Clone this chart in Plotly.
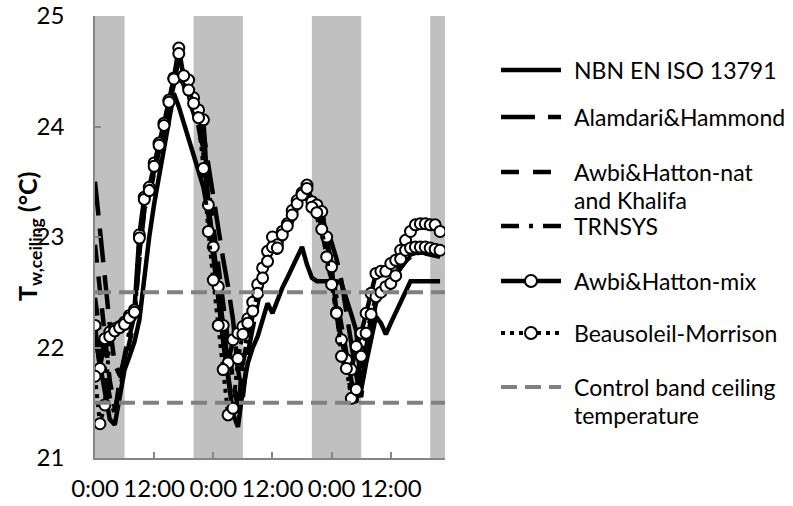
import plotly.graph_objects as go

# Hourly ceiling surface temperature (°C) over three days
hours = list(range(71))

nbn_en_iso_13791 = [
    22.10, 21.85, 21.60, 21.35, 21.30, 21.55, 21.80, 21.92, 22.05, 22.25,
    22.65, 23.00, 23.30, 23.55, 23.80, 24.05, 24.30, 24.18, 24.04, 23.90,
    23.76, 23.62, 23.45, 23.20, 22.85, 22.45, 22.05, 21.70, 21.40, 21.28,
    21.62, 21.86, 22.00, 22.10, 22.25, 22.40, 22.31, 22.44, 22.54, 22.63,
    22.72, 22.82, 22.91, 22.75, 22.63, 22.60, 22.60, 22.60, 22.60, 22.60,
    22.58, 22.45, 22.30, 22.15, 21.62, 21.86, 22.08, 22.28, 22.22, 22.12,
    22.22, 22.32, 22.42, 22.52, 22.60, 22.60, 22.60, 22.60, 22.60, 22.60,
    22.60,
]

alamdari_hammond = [
    23.50, 23.05, 22.62, 22.20, 21.85, 21.75, 21.90, 22.10, 22.30, 22.80,
    23.25, 23.40, 23.60, 23.80, 24.00, 24.20, 24.40, 24.55, 24.45, 24.35,
    24.25, 24.10, 23.95, 23.65, 23.35, 23.10, 22.80, 22.55, 22.25, 21.80,
    21.55, 21.95, 22.20, 22.40, 22.60, 22.80, 22.90, 22.85, 23.00, 23.08,
    23.18, 23.28, 23.36, 23.42, 23.35, 23.30, 23.20, 23.10, 22.95, 22.80,
    22.60, 22.30, 22.00, 21.75, 21.55, 21.95, 22.20, 22.40, 22.50, 22.55,
    22.60, 22.65, 22.72, 22.78, 22.82, 22.85, 22.86, 22.86, 22.85, 22.84,
    22.83,
]

awbi_hatton_nat_khalifa = [
    22.93, 22.50, 22.05, 21.70, 21.45, 21.60, 21.85, 22.05, 22.25, 22.85,
    23.25, 23.38, 23.58, 23.78, 23.98, 24.18, 24.38, 24.50, 24.38, 24.25,
    24.12, 23.98, 23.80, 23.45, 23.10, 22.75, 22.40, 22.05, 21.70, 21.45,
    21.85, 22.10, 22.30, 22.50, 22.65, 22.80, 22.92, 22.85, 22.98, 23.06,
    23.15, 23.24, 23.32, 23.38, 23.28, 23.22, 23.10, 22.95, 22.70, 22.45,
    22.15, 21.90, 21.70, 21.55, 21.80, 22.00, 22.22, 22.40, 22.48, 22.52,
    22.58, 22.64, 22.72, 22.78, 22.82, 22.84, 22.85, 22.85, 22.84, 22.83,
    22.82,
]

trnsys = [
    22.45, 22.10, 21.80, 21.55, 21.40, 21.70, 21.95, 22.15, 22.28, 22.90,
    23.30, 23.40, 23.62, 23.80, 24.00, 24.20, 24.40, 24.60, 24.40, 24.30,
    24.15, 24.00, 23.75, 23.25, 22.85, 22.50, 22.10, 21.75, 21.45, 21.40,
    21.90, 22.15, 22.35, 22.50, 22.66, 22.82, 22.95, 22.88, 23.00, 23.08,
    23.18, 23.28, 23.35, 23.42, 23.25, 23.18, 23.05, 22.85, 22.60, 22.30,
    22.00, 21.80, 21.60, 21.50, 21.85, 22.05, 22.25, 22.45, 22.50, 22.55,
    22.60, 22.66, 22.74, 22.80, 22.84, 22.86, 22.87, 22.87, 22.86, 22.85,
    22.84,
]

awbi_hatton_mix = [
    22.20, 21.81, 22.08, 22.14, 22.17, 22.19, 22.23, 22.29, 22.34, 23.02,
    23.36, 23.45, 23.67, 23.85, 24.03, 24.24, 24.44, 24.71, 24.44, 24.42,
    24.26, 24.15, 24.06, 23.29, 22.91, 22.55, 22.20, 21.86, 22.07, 22.13,
    22.19, 22.26, 22.41, 22.57, 22.72, 22.87, 23.00, 22.93, 23.05, 23.12,
    23.24, 23.33, 23.40, 23.47, 23.32, 23.29, 23.23, 23.00, 22.73, 22.32,
    22.07, 21.89, 21.80, 22.01, 22.13, 22.31, 22.49, 22.67, 22.69, 22.69,
    22.76, 22.79, 22.88, 22.97, 23.05, 23.11, 23.12, 23.12, 23.11, 23.11,
    23.05,
]

beausoleil_morrison = [
    21.74, 21.31, 21.48, 22.10, 22.15, 22.18, 22.21, 22.27, 22.32, 22.99,
    23.34, 23.42, 23.64, 23.83, 24.01, 24.22, 24.43, 24.66, 24.46, 24.33,
    24.21, 24.08, 23.62, 23.05, 22.61, 22.20, 21.80, 21.39, 21.45, 21.90,
    22.12, 22.22, 22.33, 22.49, 22.63, 22.78, 22.91, 22.90, 23.02, 23.10,
    23.20, 23.30, 23.38, 23.44, 23.27, 23.22, 23.07, 22.82, 22.57, 22.31,
    21.92, 21.81, 21.54, 21.62, 21.92, 22.13, 22.30, 22.46, 22.50, 22.55,
    22.58, 22.65, 22.80, 22.88, 22.90, 22.91, 22.91, 22.91, 22.90, 22.89,
    22.88,
]

# Control band of the ceiling temperature (°C)
control_band = [21.5, 22.5]

# Night periods (h), shaded
night_start = [0, 20, 44, 68]
night_end = [6, 30, 54, 71]

x_end = 71
tick_hours = [0, 12, 24, 36, 48, 60]
tick_labels = ["0:00", "12:00", "0:00", "12:00", "0:00", "12:00"]
y_ticks = [21, 22, 23, 24, 25]

FONT = "Lato"
BLACK = "#000000"
GREY_LINE = "#808080"
AXIS = "#868686"

styles = {
    "nbn": dict(line=dict(color=BLACK, width=4.5)),
    "alam": dict(line=dict(color=BLACK, width=4.5, dash="34px,13px")),
    "nat": dict(line=dict(color=BLACK, width=4.5, dash="18px,14px")),
    "trn": dict(line=dict(color=BLACK, width=4.5, dash="18px,10px,4px,10px")),
    "mix": dict(line=dict(color=BLACK, width=4.5)),
    "beau": dict(line=dict(color=BLACK, width=4, dash="4px,5px")),
    "ctrl": dict(line=dict(color=GREY_LINE, width=4, dash="16px,8px")),
}
marker_style = dict(symbol="circle", size=11, color="white",
                    line=dict(color=BLACK, width=2))

fig = go.Figure()

series = [
    ("NBN EN ISO 13791", nbn_en_iso_13791, "nbn", False),
    ("Alamdari&Hammond", alamdari_hammond, "alam", False),
    ("Awbi&Hatton-nat and Khalifa", awbi_hatton_nat_khalifa, "nat", False),
    ("TRNSYS", trnsys, "trn", False),
    ("Awbi&Hatton-mix", awbi_hatton_mix, "mix", True),
    ("Beausoleil-Morrison", beausoleil_morrison, "beau", True),
]
for name, vals, key, with_markers in series:
    fig.add_trace(go.Scatter(
        x=hours, y=vals, name=name,
        mode="lines+markers" if with_markers else "lines",
        marker=marker_style if with_markers else None,
        showlegend=False, **styles[key]))

for level in control_band:
    fig.add_trace(go.Scatter(
        x=[hours[0], x_end], y=[level, level], mode="lines",
        name="Control band ceiling temperature", showlegend=False,
        **styles["ctrl"]))

# shaded night periods
for s, e in zip(night_start, night_end):
    fig.add_shape(type="rect", xref="x", yref="paper", x0=s, x1=e, y0=0, y1=1,
                  fillcolor="#c0c0c0", line=dict(width=0), layer="below")

# ---- page geometry (px) and a hand-drawn legend to the right ----
W, H = 793, 506
ML, MR, MT, MB = 95, 348, 16, 48
PW, PH = W - ML - MR, H - MT - MB


def px_x(px):
    return (px - ML) / PW


def px_y(py):
    return (H - MB - py) / PH


sym_x0, sym_x1, circ_x, text_x = 501, 561, 531, 572
legend_rows = [
    (["NBN EN ISO 13791"], "nbn", False, 70),
    (["Alamdari&Hammond"], "alam", False, 117),
    (["Awbi&Hatton-nat", "and Khalifa"], "nat", False, 172),
    (["TRNSYS"], "trn", False, 226),
    (["Awbi&Hatton-mix"], "mix", True, 281),
    (["Beausoleil-Morrison"], "beau", True, 333),
    (["Control band ceiling", "temperature"], "ctrl", False, 387),
]
for lines, key, circ, yy in legend_rows:
    ln = styles[key]["line"]
    fig.add_shape(type="line", xref="paper", yref="paper",
                  x0=px_x(sym_x0), x1=px_x(sym_x1), y0=px_y(yy), y1=px_y(yy),
                  line=dict(color=ln["color"], width=ln["width"],
                            dash=ln.get("dash", "solid")))
    if circ:
        fig.add_shape(type="circle", xref="paper", yref="paper",
                      xsizemode="pixel", ysizemode="pixel",
                      xanchor=px_x(circ_x), yanchor=px_y(yy),
                      x0=-6, x1=6, y0=-6, y1=6,
                      fillcolor="white", line=dict(color=BLACK, width=2))
    for i, t in enumerate(lines):
        fig.add_annotation(text=t, xref="paper", yref="paper",
                           x=px_x(text_x), y=px_y(yy + 28 * i),
                           xanchor="left", yanchor="middle", showarrow=False,
                           font=dict(family=FONT, size=23, color=BLACK))

# y-axis title
fig.add_annotation(
    text="<b>T<sub>w,ceiling</sub> (°C)</b>", xref="paper", yref="paper",
    x=px_x(29), y=0.5, xanchor="center", yanchor="middle", textangle=-90,
    showarrow=False, font=dict(family=FONT, size=25, color=BLACK))

fig.update_layout(
    width=W, height=H,
    margin=dict(l=ML, r=MR, t=MT, b=MB, autoexpand=False),
    paper_bgcolor="white", plot_bgcolor="white",
    font=dict(family=FONT, color=BLACK),
    showlegend=False,
    xaxis=dict(range=[0, x_end], tickvals=tick_hours, ticktext=tick_labels,
               ticks="inside", ticklen=6, tickcolor=AXIS, tickwidth=1.5,
               showline=True, linecolor=AXIS, linewidth=1.5,
               showgrid=False, zeroline=False, automargin=False,
               tickfont=dict(family=FONT, size=24, color=BLACK),
               ticklabelstandoff=8),
    yaxis=dict(range=[21, 25], tickvals=y_ticks,
               ticks="inside", ticklen=6, tickcolor=AXIS, tickwidth=1.5,
               showline=True, linecolor=AXIS, linewidth=1.5,
               showgrid=False, zeroline=False, automargin=False,
               tickfont=dict(family=FONT, size=24, color=BLACK),
               ticklabelstandoff=24),
)

fig.write_html("out.html")
